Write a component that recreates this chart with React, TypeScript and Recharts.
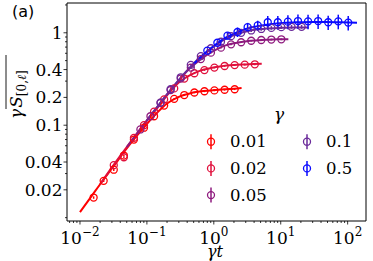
import React from 'react';
import { ComposedChart, Line, Scatter, XAxis, YAxis, ErrorBar, ReferenceArea } from 'recharts';

// ---------- data ----------
const gammaLabels = ['0.01', '0.02', '0.05', '0.1', '0.5'];
const seriesColors = ['#ff0000', '#e0103c', '#8e1a7e', '#6a2a9a', '#0a0aff'];

// theory curves: [γt, γ S]
const theory001 = [[0.01, 0.0115], [0.015, 0.0172], [0.02, 0.023], [0.03, 0.034], [0.05, 0.056], [0.07, 0.076], [0.1, 0.103], [0.14, 0.135], [0.2, 0.172], [0.3, 0.203], [0.45, 0.222], [0.7, 0.234], [1.0, 0.24], [1.5, 0.245], [2.0, 0.248], [2.6, 0.252]];
const theory002 = [[0.02, 0.023], [0.03, 0.035], [0.05, 0.058], [0.07, 0.08], [0.1, 0.112], [0.15, 0.16], [0.2, 0.21], [0.3, 0.29], [0.45, 0.35], [0.6, 0.385], [0.9, 0.415], [1.3, 0.435], [2.0, 0.448], [3.0, 0.455], [4.0, 0.46], [5.2, 0.462]];
const theory005 = [[0.05, 0.058], [0.07, 0.08], [0.1, 0.113], [0.15, 0.165], [0.2, 0.215], [0.3, 0.305], [0.45, 0.42], [0.6, 0.5], [0.8, 0.58], [1.1, 0.66], [1.5, 0.73], [2.2, 0.78], [3.5, 0.82], [6, 0.84], [9, 0.85], [13, 0.85]];
const theory01 = [[0.1, 0.113], [0.15, 0.165], [0.2, 0.215], [0.3, 0.31], [0.45, 0.43], [0.6, 0.53], [0.8, 0.63], [1.1, 0.75], [1.5, 0.86], [2.2, 0.97], [3.5, 1.06], [6, 1.11], [10, 1.13], [16, 1.14], [26, 1.14]];
const theory05 = [[0.5, 0.46], [0.7, 0.58], [1.0, 0.72], [1.4, 0.86], [2.0, 0.98], [3.0, 1.1], [4.5, 1.18], [7, 1.24], [11, 1.28], [18, 1.3], [30, 1.31], [50, 1.31], [80, 1.3], [138, 1.28]];

// simulation points: [γt, γ S, error]
const sim001 = [[0.016, 0.0165, 0.0005], [0.0226, 0.025, 0.0007], [0.032, 0.033, 0.001], [0.0453, 0.047, 0.001], [0.064, 0.07, 0.002], [0.0905, 0.094, 0.002], [0.128, 0.125, 0.003], [0.181, 0.163, 0.003], [0.256, 0.193, 0.004], [0.362, 0.212, 0.004], [0.512, 0.226, 0.004], [0.724, 0.233, 0.005], [1.02, 0.238, 0.005], [1.45, 0.242, 0.005], [2.05, 0.245, 0.005]];
const sim002 = [[0.032, 0.037, 0.001], [0.0453, 0.045, 0.001], [0.064, 0.073, 0.002], [0.0905, 0.1, 0.002], [0.128, 0.14, 0.003], [0.181, 0.19, 0.004], [0.256, 0.25, 0.005], [0.362, 0.32, 0.006], [0.512, 0.365, 0.007], [0.724, 0.395, 0.008], [1.02, 0.42, 0.008], [1.45, 0.437, 0.009], [2.05, 0.447, 0.009], [2.9, 0.452, 0.01], [4.1, 0.456, 0.01]];
const sim005 = [[0.08, 0.09, 0.002], [0.113, 0.125, 0.003], [0.16, 0.175, 0.004], [0.226, 0.24, 0.005], [0.32, 0.32, 0.006], [0.453, 0.42, 0.008], [0.64, 0.52, 0.01], [0.905, 0.61, 0.012], [1.28, 0.69, 0.014], [1.81, 0.75, 0.015], [2.56, 0.79, 0.016], [3.62, 0.82, 0.017], [5.12, 0.835, 0.018], [7.24, 0.845, 0.018], [10.2, 0.85, 0.018]];
const sim01 = [[0.16, 0.175, 0.004], [0.226, 0.245, 0.005], [0.32, 0.33, 0.007], [0.453, 0.45, 0.01], [0.64, 0.56, 0.012], [0.905, 0.68, 0.015], [1.28, 0.8, 0.02], [1.81, 0.92, 0.03], [2.56, 1.0, 0.035], [3.62, 1.06, 0.04], [5.12, 1.1, 0.045], [7.24, 1.13, 0.05], [10.2, 1.15, 0.05], [14.5, 1.16, 0.055], [20.5, 1.16, 0.055]];
const sim05 = [[0.8, 0.64, 0.02], [1.13, 0.78, 0.04], [1.6, 0.93, 0.08], [2.26, 1.02, 0.12], [3.2, 1.15, 0.13], [4.53, 1.2, 0.15], [6.4, 1.3, 0.22], [9.05, 1.3, 0.22], [12.8, 1.32, 0.23], [18.1, 1.34, 0.24], [25.6, 1.33, 0.24], [36.2, 1.34, 0.24], [51.2, 1.3, 0.23], [72.4, 1.33, 0.24], [102, 1.29, 0.23]];

const theoryAll = [theory001, theory002, theory005, theory01, theory05];
const simAll = [sim001, sim002, sim005, sim01, sim05];

const xMajorTicks = [0.01, 0.1, 1, 10, 100];
const xTickExps = ['\u22122', '\u22121', '0', '1', '2'];
const xMinorTicks = [0.007, 0.008, 0.009, 0.02, 0.03, 0.04, 0.05, 0.06, 0.07, 0.08, 0.09, 0.2, 0.3, 0.4, 0.5, 0.6, 0.7, 0.8, 0.9, 2, 3, 4, 5, 6, 7, 8, 9, 20, 30, 40, 50, 60, 70, 80, 90];
const yMajorTicks = [0.02, 0.04, 0.1, 0.2, 0.4, 1];
const yTickLabels = ['0.02', '0.04', '0.1', '0.2', '0.4', '1'];
const yMinorTicks = [0.01, 0.03, 0.05, 0.06, 0.07, 0.08, 0.09, 0.3, 0.5, 0.6, 0.7, 0.8, 0.9, 2];

const X_MIN = 0.0064;
const X_MAX = 188;
const Y_MIN = 0.0092;
const Y_MAX = 2.1;

const SERIF = 'DejaVu Serif, serif';
const serifStyle = { fontFamily: SERIF };
const sansStyle = { fontFamily: 'DejaVu Sans, sans-serif' };

const toXY = (arr: number[][]) => arr.map(([x, y]) => ({ x, y }));
const toXYE = (arr: number[][]) => arr.map(([x, y, e]) => ({ x, y, e }));

const XTick = (props: any) => {
  const { x, y, payload } = props;
  const i = xMajorTicks.indexOf(payload.value);
  const major = i >= 0;
  return (
    <g>
      <line x1={x} x2={x} y1={y} y2={y + (major ? 3.5 : 2)} stroke="#000" strokeWidth={0.8} />
      {major && (
        <text x={x} y={y + 23} textAnchor="middle" style={serifStyle} fontSize={17} fill="#000">
          10<tspan dy={-8} fontSize={12}>{xTickExps[i]}</tspan>
        </text>
      )}
    </g>
  );
};

const YTick = (props: any) => {
  const { x, y, payload } = props;
  const i = yMajorTicks.indexOf(payload.value);
  const major = i >= 0;
  return (
    <g>
      <line x1={x} x2={x - (major ? 3.5 : 2)} y1={y} y2={y} stroke="#000" strokeWidth={0.8} />
      {major && (
        <text x={x - 4.5} y={y + 6} textAnchor="end" style={serifStyle} fontSize={17} fill="#000">
          {yTickLabels[i]}
        </text>
      )}
    </g>
  );
};

const makeShape = (color: string) => (p: any) => (
  <circle cx={p.cx} cy={p.cy} r={3.5} fill="none" stroke={color} strokeWidth={1.3} />
);

export default function App() {
  const xTicks = [...xMajorTicks, ...xMinorTicks].sort((a, b) => a - b);
  const yTicks = [...yMajorTicks, ...yMinorTicks].sort((a, b) => a - b);
  return (
    <div style={{ position: 'absolute', left: 0, top: 0, width: 373, height: 261, background: '#fff' }}>
      <ComposedChart width={373} height={261} margin={{ top: 3, right: 7, bottom: 0, left: 0 }}>
        <XAxis
          dataKey="x"
          type="number"
          scale="log"
          domain={[X_MIN, X_MAX]}
          allowDataOverflow
          ticks={xTicks}
          interval={0}
          tickSize={0}
          tickMargin={0}
          tickLine={false}
          axisLine={false}
          height={40}
          tick={XTick}
        />
        <YAxis
          type="number"
          scale="log"
          domain={[Y_MIN, Y_MAX]}
          allowDataOverflow
          ticks={yTicks}
          interval={0}
          tickSize={0}
          tickMargin={0}
          tickLine={false}
          axisLine={false}
          width={67}
          tick={YTick}
        />
        {theoryAll.map((t, i) => [
          <Line
            key={'l' + i}
            data={toXY(t)}
            dataKey="y"
            type="monotone"
            stroke={seriesColors[i]}
            strokeWidth={2}
            dot={false}
            isAnimationActive={false}
          />,
          <Scatter
            key={'s' + i}
            data={toXYE(simAll[i])}
            dataKey="y"
            isAnimationActive={false}
            shape={makeShape(seriesColors[i])}
          >
            <ErrorBar dataKey="e" direction="y" width={0} stroke={seriesColors[i]} strokeWidth={1.5} />
          </Scatter>,
        ])}
        <ReferenceArea x1={X_MIN} x2={X_MAX} y1={Y_MIN} y2={Y_MAX} fill="none" stroke="#000" strokeWidth={1} ifOverflow="visible" />
      </ComposedChart>
      <svg width={373} height={261} style={{ position: 'absolute', left: 0, top: 0, pointerEvents: 'none' }}>
        <text x={12} y={17} style={sansStyle} fontSize={16} fill="#000">(a)</text>
        <text x={215} y={257} textAnchor="middle" style={serifStyle} fontStyle="italic" fontSize={16} fill="#000">γt</text>
        <g transform="translate(22, 119) rotate(-90)">
          <text x={0} y={0} style={serifStyle} fontSize={17} fill="#000">
            <tspan fontStyle="italic">γ</tspan>
            <tspan fontStyle="italic" dx={1}>S</tspan>
            <tspan dy={4} fontSize={12}>[0,</tspan>
            <tspan fontStyle="italic" fontSize={12}>ℓ</tspan>
            <tspan fontSize={12}>]</tspan>
          </text>
          <line x1={10} x2={64} y1={-16} y2={-16} stroke="#000" strokeWidth={0.9} />
        </g>
        <text x={279} y={120} textAnchor="middle" style={serifStyle} fontStyle="italic" fontSize={17} fill="#000">γ</text>
        {gammaLabels.map((g, i) => {
          const col = i < 3 ? 0 : 1;
          const row = i < 3 ? i : i - 3;
          const mx = 211 + col * 96;
          const my = 141.7 + row * 26.7;
          return (
            <g key={g}>
              <line x1={mx} x2={mx} y1={my - 7.5} y2={my + 7.5} stroke={seriesColors[i]} strokeWidth={1.5} />
              <circle cx={mx} cy={my} r={3.5} fill="none" stroke={seriesColors[i]} strokeWidth={1.3} />
              <text x={mx + 19} y={my + 5.5} style={serifStyle} fontSize={16.5} fill="#000">{g}</text>
            </g>
          );
        })}
      </svg>
    </div>
  );
}
